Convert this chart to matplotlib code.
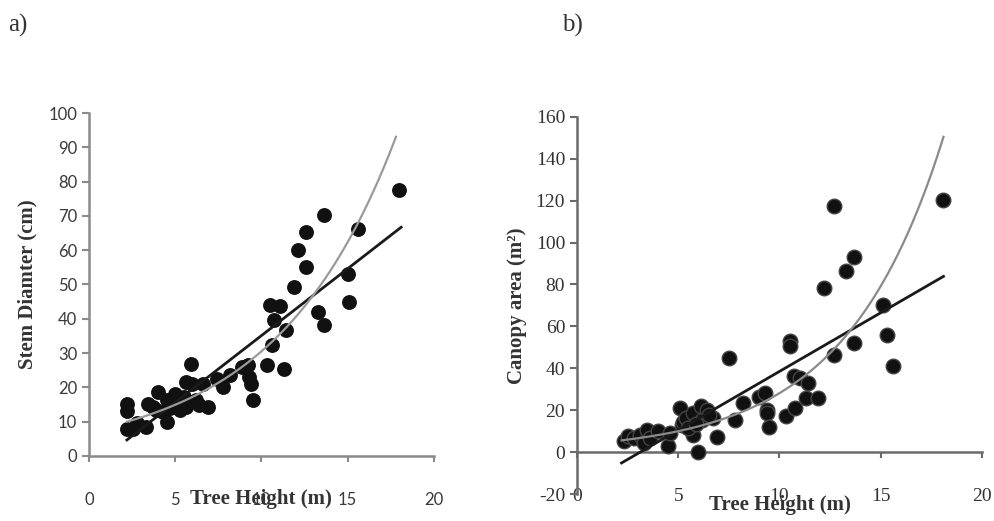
import numpy as np
import matplotlib
matplotlib.use("Agg")
import matplotlib.pyplot as plt

plt.rcParams["axes.unicode_minus"] = False

# ===== panel a: tree height vs stem diameter =====
height_a = [2.2, 2.2, 2.2, 2.55, 3.3, 3.4, 4.0, 3.9, 4.5, 4.5, 5.0, 4.9, 5.3,
            5.6, 5.6, 5.9, 6.0, 6.2, 6.4, 6.6, 6.9, 7.4, 7.8, 8.2, 8.9, 9.2,
            9.3, 9.4, 9.5, 10.3, 10.5, 10.7, 10.6, 11.1, 11.4, 11.3, 11.9,
            12.1, 12.6, 12.6, 13.3, 13.6, 13.6, 15.0, 15.1, 15.6, 18.0,
            4.3, 3.7, 5.5, 2.8, 4.7, 5.1]
diam_a = [15.3, 13.1, 8.0, 8.0, 8.5, 15.3, 18.7, 13.3, 9.9, 16.2, 18.2, 15.3,
          13.3, 14.3, 21.6, 26.9, 21.1, 16.2, 14.8, 21.1, 14.3, 22.5, 20.1,
          23.5, 25.9, 26.4, 23.0, 21.1, 16.2, 26.4, 43.9, 39.6, 32.3, 43.6,
          36.6, 25.5, 49.3, 60.2, 65.3, 55.1, 42.0, 70.2, 38.1, 53.2, 44.9,
          66.3, 77.5, 12.8, 14.3, 17.2, 9.5, 14.0, 16.5]

# trend lines (linear and exponential)
lin_a = (3.9, -3.9)          # slope, intercept
exp_a = (7.3, 0.143)         # A, k  -> A*exp(k*x)
range_a_lin = (2.2, 18.1)
range_a_exp = (2.2, 17.8)

# ===== panel b: tree height vs canopy area =====
height_b = [2.3, 2.5, 2.8, 3.1, 3.45, 3.3, 3.6, 4.0, 4.5, 4.6, 5.1, 5.2, 5.25,
            5.4, 5.75, 5.75, 6.0, 6.1, 6.15, 6.4, 6.7, 6.9, 7.5, 7.8, 8.2,
            9.0, 9.3, 9.4, 9.4, 9.5, 10.3, 10.5, 10.5, 10.7, 10.75, 11.0,
            11.3, 11.4, 11.9, 12.2, 12.7, 12.7, 13.3, 13.7, 13.7, 15.1, 15.3,
            15.6, 18.1, 5.5, 5.9, 6.5]
area_b = [5.1, 7.5, 6.7, 8.3, 10.7, 4.3, 6.7, 9.9, 2.7, 9.1, 21.0, 13.0, 14.6,
          16.2, 8.3, 18.6, 0.0, 21.8, 15.4, 20.2, 16.2, 7.2, 44.8, 15.4, 23.4,
          26.5, 28.1, 20.2, 18.6, 12.2, 17.0, 52.8, 50.4, 36.1, 21.0, 35.3,
          25.8, 32.9, 25.8, 78.2, 117.5, 46.4, 86.2, 93.3, 52.0, 70.3, 56.0,
          40.9, 120.4, 11.4, 13.5, 17.5]

lin_b = (5.6, -17.5)
exp_b = (3.55, 0.207)
range_b = (2.2, 18.1)

fig = plt.figure(figsize=(9.95, 5.21), dpi=100)
AXIS_GREY = "#8a8a8a"

# ---------- a) ----------
ax1 = fig.add_axes([0.0894, 0.1248, 0.3467, 0.6583])
ax1.scatter(height_a, diam_a, s=115, color="#111111", zorder=3, linewidths=0)
xa = np.linspace(*range_a_lin, 50)
ax1.plot(xa, lin_a[0] * xa + lin_a[1], color="#1a1a1a", lw=2.0, zorder=4)
xe = np.linspace(*range_a_exp, 200)
ax1.plot(xe, exp_a[0] * np.exp(exp_a[1] * xe), color="#9a9a9a", lw=1.6, zorder=4)

ax1.set_xlim(0, 20)
ax1.set_ylim(0, 100)
ax1.set_xticks([0, 5, 10, 15, 20])
ax1.set_yticks(range(0, 101, 10))
for s in ["top", "right"]:
    ax1.spines[s].set_visible(False)
for s in ["left", "bottom"]:
    ax1.spines[s].set_color(AXIS_GREY)
    ax1.spines[s].set_linewidth(1.8)
ax1.tick_params(axis="both", colors=AXIS_GREY, width=1.5, length=5,
                labelcolor="#3a3a3a", labelsize=12)
ax1.tick_params(axis="x", pad=22, length=4)
for lab in ax1.get_xticklabels() + ax1.get_yticklabels():
    lab.set_family("Lato")
ax1.set_ylabel("Stem Diamter (cm)", family="Liberation Serif",
               fontweight="bold", fontsize=15, color="#333333", labelpad=8)
ax1.xaxis.set_label_coords(0.5, -0.124)
ax1.set_xlabel("Tree Height (m)", family="Liberation Serif",
               fontweight="bold", fontsize=15, color="#333333", va="center")

# ---------- b) ----------
ax2 = fig.add_axes([0.5799, 0.0518, 0.407, 0.724])
ax2.scatter(height_b, area_b, s=110, facecolor="#111111", edgecolor="#444444",
            linewidths=1.0, zorder=3)
xb = np.linspace(*range_b, 50)
ax2.plot(xb, lin_b[0] * xb + lin_b[1], color="#1a1a1a", lw=2.0, zorder=4)
xbe = np.linspace(*range_b, 200)
ax2.plot(xbe, exp_b[0] * np.exp(exp_b[1] * xbe), color="#8a8a8a", lw=1.6, zorder=4)

ax2.set_xlim(0, 20)
ax2.set_ylim(-20, 160)
ax2.set_xticks([0, 5, 10, 15, 20])
ax2.set_yticks(range(-20, 161, 20))
for s in ["top", "right"]:
    ax2.spines[s].set_visible(False)
ax2.spines["bottom"].set_position(("data", 0))
for s in ["left", "bottom"]:
    ax2.spines[s].set_color("#6a6a6a")
    ax2.spines[s].set_linewidth(1.8)
ax2.tick_params(axis="both", colors="#6a6a6a", width=1.5, length=5,
                labelcolor="#333333", labelsize=14)
ax2.tick_params(axis="x", pad=22, length=4)
for lab in ax2.get_xticklabels() + ax2.get_yticklabels():
    lab.set_family("Liberation Serif")
ax2.set_ylabel("Canopy area (m²)", family="Liberation Serif",
               fontweight="bold", fontsize=15, color="#333333", labelpad=6)
ax2.xaxis.set_label_coords(0.49, -0.029)
ax2.set_xlabel("Tree Height (m)", family="Liberation Serif",
               fontweight="bold", fontsize=15, color="#333333", va="center")

fig.text(0.008, 0.952, "a)", family="Liberation Serif", fontsize=18,
         color="#333333", va="center")
fig.text(0.565, 0.952, "b)", family="Liberation Serif", fontsize=18,
         color="#333333", va="center")

fig.savefig("out.png", dpi=100, facecolor="white")
